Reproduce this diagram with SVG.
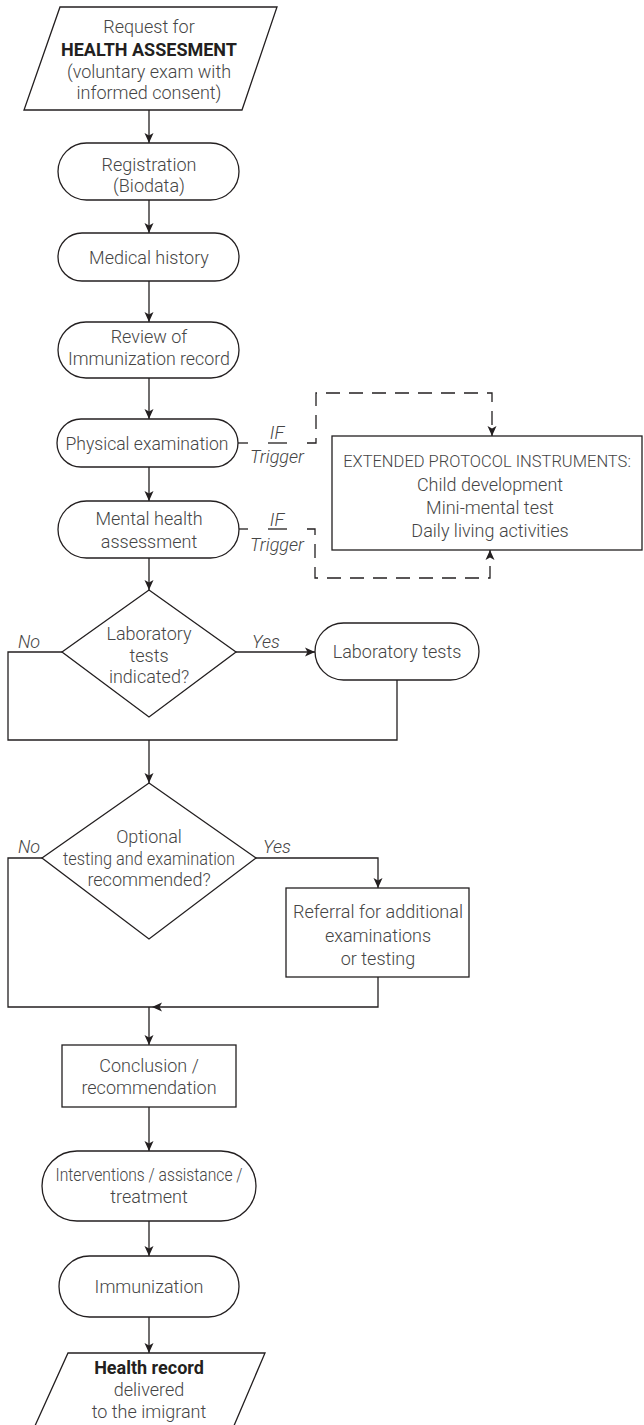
<svg xmlns="http://www.w3.org/2000/svg" width="644" height="1425" viewBox="0 0 644 1425">
<defs>
<style>
.s{fill:#fff;stroke:#231f20;stroke-width:1.3}
.c{fill:none;stroke:#231f20;stroke-width:1.3}
.d{fill:none;stroke:#231f20;stroke-width:1.3;stroke-dasharray:14 9}
.t{font-family:Roboto,"Liberation Sans",sans-serif;font-weight:300;font-size:18px;fill:#454545;text-anchor:middle}
.b{font-weight:700;fill:#231f20}
.i{font-style:italic}
</style>
<marker id="ah" viewBox="0 0 10 10" refX="10" refY="5" markerWidth="10" markerHeight="10" markerUnits="userSpaceOnUse" orient="auto">
<path d="M0,0.5 L10,5 L0,9.5 L2.5,5 Z" fill="#231f20"/>
</marker>
</defs>
<rect width="644" height="1425" fill="#fff"/>
<g id="connectors">
<path class="c" d="M149 110 V143" marker-end="url(#ah)"/>
<path class="c" d="M149 200 V233" marker-end="url(#ah)"/>
<path class="c" d="M149 281 V322" marker-end="url(#ah)"/>
<path class="c" d="M149 378 V419" marker-end="url(#ah)"/>
<path class="c" d="M149 467 V501" marker-end="url(#ah)"/>
<path class="c" d="M149 558 V590" marker-end="url(#ah)"/>
<path class="c" d="M238 443 H248"/>
<path class="c" d="M268 443 H287"/>
<path class="d" d="M307 443 H316 V393 H492 V436" marker-end="url(#ah)"/>
<path class="c" d="M239 529 H248"/>
<path class="c" d="M268 529 H287"/>
<path class="d" d="M307 529 H315 V578 H490 V550" marker-end="url(#ah)"/>
<path class="c" d="M236 652 H315" marker-end="url(#ah)"/>
<path class="c" d="M62 652 H8 V740 H397 V680"/>
<path class="c" d="M149 740 V783" marker-end="url(#ah)"/>
<path class="c" d="M256 858 H378 V888" marker-end="url(#ah)"/>
<path class="c" d="M42 858 H8 V1007 H152"/>
<path class="c" d="M378 977 V1007 H152" marker-end="url(#ah)"/>
<path class="c" d="M149 1007 V1045" marker-end="url(#ah)"/>
<path class="c" d="M149 1107 V1151" marker-end="url(#ah)"/>
<path class="c" d="M149 1221 V1256" marker-end="url(#ah)"/>
<path class="c" d="M149 1317 V1353" marker-end="url(#ah)"/>
<text class="t i" x="277" y="439">IF</text>
<text class="t i" x="277" y="463">Trigger</text>
<text class="t i" x="277" y="526">IF</text>
<text class="t i" x="277" y="551">Trigger</text>
<text class="t i" x="29" y="648">No</text>
<text class="t i" x="266" y="648">Yes</text>
<text class="t i" x="29" y="853">No</text>
<text class="t i" x="277" y="853">Yes</text>
</g>
<g id="start">
<path class="s" d="M60 7 H277 L242 110 H24 Z"/>
<text class="t" x="149" y="33">Request for</text>
<text class="t b" x="149" y="56">HEALTH ASSESMENT</text>
<text class="t" x="149" y="78">(voluntary exam with</text>
<text class="t" x="149" y="99">informed consent)</text>
</g>
<g id="registration">
<rect class="s" x="58" y="143" width="181" height="57" rx="28.5"/>
<text class="t" x="149" y="171">Registration</text>
<text class="t" x="149" y="192">(Biodata)</text>
</g>
<g id="medical-history">
<rect class="s" x="58" y="233" width="181" height="48" rx="24"/>
<text class="t" x="149" y="264">Medical history</text>
</g>
<g id="immunization-review">
<rect class="s" x="58" y="322" width="181" height="56" rx="28"/>
<text class="t" x="149" y="343">Review of</text>
<text class="t" x="149" y="365" textLength="162" lengthAdjust="spacingAndGlyphs">Immunization record</text>
</g>
<g id="physical-exam">
<rect class="s" x="57" y="419" width="181" height="48" rx="24"/>
<text class="t" x="147" y="450" textLength="163" lengthAdjust="spacingAndGlyphs">Physical examination</text>
</g>
<g id="mental-health">
<rect class="s" x="58" y="501" width="181" height="57" rx="28.5"/>
<text class="t" x="149" y="525">Mental health</text>
<text class="t" x="149" y="548">assessment</text>
</g>
<g id="extended-protocol">
<rect class="s" x="332" y="436" width="310" height="114"/>
<text class="t" x="487" y="467" style="font-size:16.5px">EXTENDED PROTOCOL INSTRUMENTS:</text>
<text class="t" x="490" y="491">Child development</text>
<text class="t" x="490" y="514">Mini-mental test</text>
<text class="t" x="490" y="537">Daily living activities</text>
</g>
<g id="lab-decision">
<path class="s" d="M149 590 L236 652 L149 717 L62 652 Z"/>
<text class="t" x="149" y="640">Laboratory</text>
<text class="t" x="149" y="662">tests</text>
<text class="t" x="149" y="683">indicated?</text>
</g>
<g id="lab-tests">
<rect class="s" x="315" y="623" width="164" height="57" rx="28.5"/>
<text class="t" x="397" y="658">Laboratory tests</text>
</g>
<g id="optional-decision">
<path class="s" d="M149 783 L256 858 L149 939 L42 858 Z"/>
<text class="t" x="149" y="843">Optional</text>
<text class="t" x="149" y="865" textLength="172" lengthAdjust="spacingAndGlyphs">testing and examination</text>
<text class="t" x="149" y="886">recommended?</text>
</g>
<g id="referral">
<rect class="s" x="286" y="888" width="183" height="89"/>
<text class="t" x="378" y="918" textLength="170" lengthAdjust="spacingAndGlyphs">Referral for additional</text>
<text class="t" x="378" y="942">examinations</text>
<text class="t" x="378" y="965">or testing</text>
</g>
<g id="conclusion">
<rect class="s" x="62" y="1045" width="174" height="62"/>
<text class="t" x="149" y="1072">Conclusion /</text>
<text class="t" x="149" y="1094">recommendation</text>
</g>
<g id="interventions">
<rect class="s" x="42" y="1151" width="214" height="70" rx="35"/>
<text class="t" x="149" y="1181" textLength="187" lengthAdjust="spacingAndGlyphs">Interventions / assistance /</text>
<text class="t" x="149" y="1203">treatment</text>
</g>
<g id="immunization">
<rect class="s" x="59" y="1256" width="180" height="61" rx="30.5"/>
<text class="t" x="149" y="1293">Immunization</text>
</g>
<g id="health-record">
<path class="s" d="M68 1353 H265 L233 1428 H34 Z"/>
<text class="t b" x="149" y="1374">Health record</text>
<text class="t" x="149" y="1396">delivered</text>
<text class="t" x="149" y="1418">to the imigrant</text>
</g>
</svg>
